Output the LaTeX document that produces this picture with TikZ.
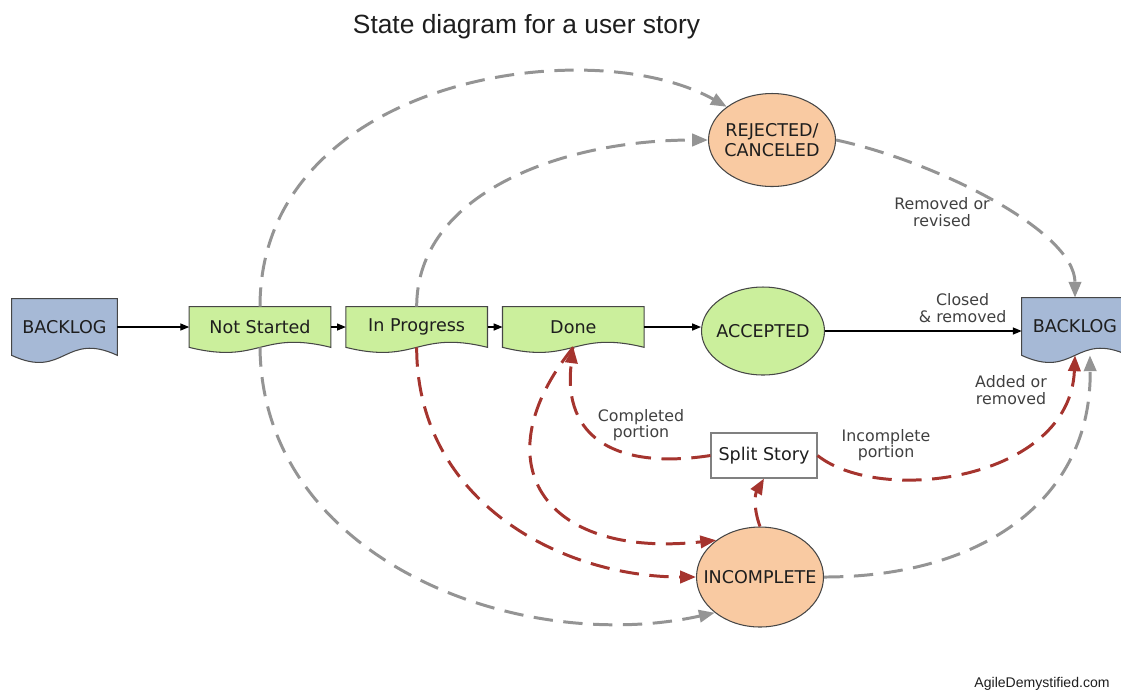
\documentclass[tikz,border=0pt]{standalone}
\usepackage{fontspec}
\setmainfont{DejaVu Sans}
\newfontfamily\titlefont{Liberation Sans}
\usetikzlibrary{positioning,arrows.meta,shapes.geometric,backgrounds}

\definecolor{docblue}{RGB}{166,185,214}
\definecolor{stgreen}{RGB}{203,239,156}
\definecolor{storange}{RGB}{249,202,162}
\definecolor{dashgray}{RGB}{148,148,148}
\definecolor{dashred}{RGB}{165,52,46}
\definecolor{edgegray}{RGB}{70,70,70}
\definecolor{txt}{RGB}{30,30,30}

% wavy-bottomed document outline behind a node
\newcommand{\docwave}[3]{%
  \begin{scope}[on background layer]
    \filldraw[fill=#2, draw=edgegray, line width=0.6pt]
      (#1.north west) -- (#1.north east) -- (#1.south east)
      .. controls ([yshift=#3]#1.south) and ([yshift=-#3]#1.south) .. (#1.south west) -- cycle;
  \end{scope}}

\begin{document}
\begin{tikzpicture}[x=0.02cm, y=-0.02cm,
  font=\fontsize{10}{9.5}\selectfont, text=txt,
  doc/.style={rectangle, inner sep=0pt, minimum width=2.82cm, minimum height=0.8cm},
  state/.style={ellipse, draw=edgegray, line width=0.6pt, inner ysep=0pt, inner xsep=-8pt, align=center, font=\fontsize{10}{11.5}\selectfont},
  lbl/.style={font=\fontsize{9}{9.5}\selectfont, align=center, text=txt!85},
  flow/.style={->, line width=0.7pt},
  gline/.style={draw=dashgray, line width=1.7pt, dash pattern=on 11pt off 6pt, -{Triangle[length=9pt,width=7pt]}},
  rline/.style={gline, draw=dashred},
  >={Triangle[length=5pt,width=4pt]}, node distance=0.3cm]
  \useasboundingbox (0,0) rectangle (1121,691);

  \node[font=\titlefont\fontsize{15}{18}\selectfont, anchor=base] (title) at (526.5,33) {State diagram for a user story};

  \node[doc, minimum width=2.1cm, minimum height=1.12cm] (backL) at (64.5,327) {BACKLOG};
  \node[doc] (ns) at (260,327) {Not Started};
  \node[doc, right=of ns] (ip) {In Progress};
  \node[doc, right=of ip] (done) {Done};
  \node[state, fill=stgreen, minimum width=2.46cm, minimum height=1.76cm] (acc) at (763,331) {ACCEPTED};
  \node[state, fill=storange, minimum width=2.54cm, minimum height=1.86cm] (rej) at (772,140) {REJECTED/\\CANCELED};
  \node[state, fill=storange, minimum width=2.54cm, minimum height=2cm] (inc) at (760,577) {INCOMPLETE};
  \node[doc, minimum width=2.12cm, minimum height=1.14cm] (backR) at (1075,326.5) {BACKLOG};
  \node[draw=gray, fill=white, line width=0.6pt, inner sep=0pt, minimum width=2.12cm, minimum height=0.9cm] (split) at (764,455.5) {Split Story};

  \docwave{backL}{docblue}{14pt}
  \docwave{ns}{stgreen}{10pt}
  \docwave{ip}{stgreen}{10pt}
  \docwave{done}{stgreen}{10pt}
  \docwave{backR}{docblue}{14pt}

  \draw[flow] (backL) -- (ns);
  \draw[flow] (ns) -- (ip);
  \draw[flow] (ip) -- (done);
  \draw[flow] (done.east) -- (done.east -| acc.west);
  \draw[flow] (acc) -- (acc -| backR.west)
    node[lbl, pos=0.7, above=1pt] (closed) {Closed\\\& removed};

  % to and from REJECTED/CANCELED
  \draw[gline] (ns.north) .. controls +(0,-228) and +(-137,-77) .. (rej.north west);
  \draw[gline] (ip.north) .. controls +(0,-112) and +(-149,0) .. (rej.west);
  \draw[gline] (rej.east) .. controls +(94.5,20) and +(0,-68) .. (backR.north);
  \node[lbl] (revised) at (942,212) {Removed or\\revised};

  % to and from INCOMPLETE
  \draw[gline] (ns.south) .. controls +(2,213) and +(-195,43) .. (inc.south west);
  \draw[rline] (ip.south) .. controls +(0,153) and +(-136.5,0) .. (inc.west);
  \draw[rline] (done.south) .. controls +(-92,113) and +(-176,19) .. (inc.140);
  \draw[rline] (inc.north) to[bend left=25] (split.south);
  \draw[rline] (split.west) .. controls +(-91,14) and +(-12,93) .. (done.south);
  \node[lbl] (compl) at (641,425) {Completed\\portion};
  \draw[rline] (split.east) .. controls +(63,50) and +(-5,125) .. (backR.south);
  \node[lbl] (incompl) at (886,445) {Incomplete\\portion};
  \draw[gline] (inc.east) .. controls +(157,0) and +(2,145) .. ([xshift=8.5pt]backR.south);
  \node[lbl] (addrem) at (1011,390) {Added or\\removed};

  \node[font=\titlefont\fontsize{8}{9}\selectfont] (credit) at (1042,684) {AgileDemystified.com};
\end{tikzpicture}
\end{document}
